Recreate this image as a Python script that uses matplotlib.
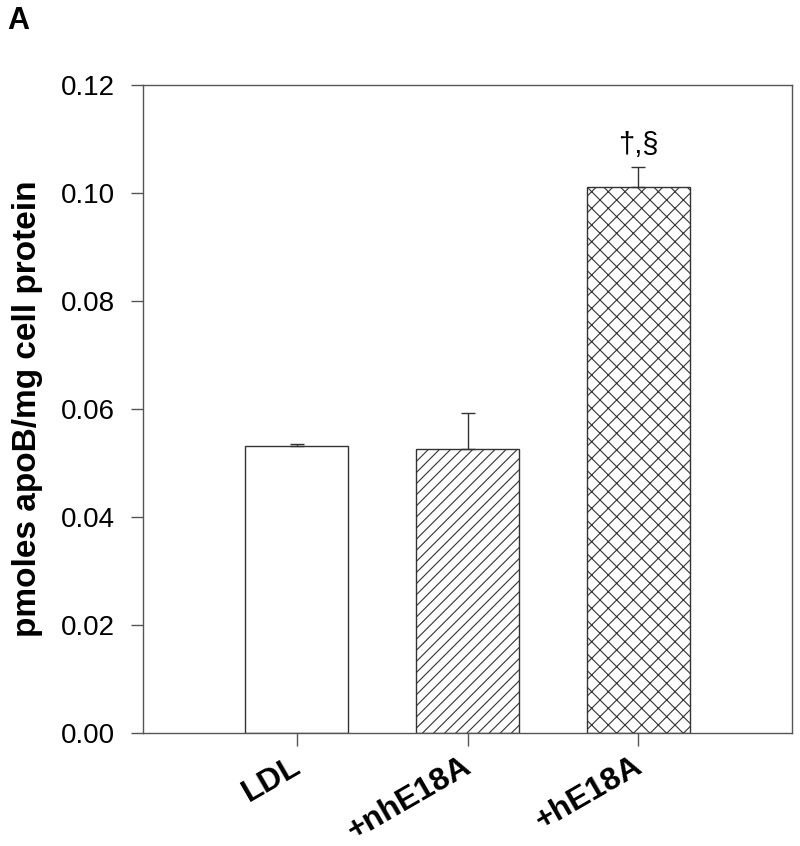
import numpy as np
import matplotlib
matplotlib.use("Agg")
import matplotlib.pyplot as plt
import matplotlib.transforms as mtransforms

plt.rcParams["font.family"] = ["Liberation Sans", "DejaVu Sans"]
plt.rcParams["hatch.linewidth"] = 0.8

# data
groups = ["LDL", "+nhE18A", "+hE18A"]
means = [0.0531, 0.0526, 0.1011]
errs_up = [0.0004, 0.0067, 0.0037]
hatches = ["", "///", "xx"]
annotations = ["", "", "†,§"]
yticks = [0.00, 0.02, 0.04, 0.06, 0.08, 0.10, 0.12]

edge = "#333333"
spine_c = "#555555"

fig = plt.figure(figsize=(8.0, 8.46), dpi=100)
ax = fig.add_axes([0.17875, 0.13357, 0.81125, 0.76596])

x = np.arange(len(groups))
ax.bar(x, means, width=0.6, color="white", edgecolor=edge, linewidth=1.0,
       hatch=hatches, zorder=2)
ax.errorbar(x, means, yerr=[np.zeros(len(means)), errs_up], fmt="none",
            ecolor=edge, elinewidth=1.0, capsize=4.7, capthick=1.0, zorder=3)

for xi, m, e, a in zip(x, means, errs_up, annotations):
    if a:
        ax.annotate(a, (xi, m + e), xytext=(0, 6), textcoords="offset points",
                    ha="center", va="bottom", fontsize=21)

ax.set_xlim(-0.9, 2.9)
ax.set_ylim(0, 0.12)
ax.set_yticks(yticks)
ax.set_yticklabels([f"{v:.2f}" for v in yticks], fontsize=20)
ax.set_xticks(x)
ax.set_xticklabels([])

for s in ax.spines.values():
    s.set_color(spine_c)
    s.set_linewidth(1.0)
ax.tick_params(axis="both", direction="out", length=9, width=1.0, color=spine_c)
ax.tick_params(axis="y", pad=11)

# rotated category labels, right end hooked just left of each tick
base = mtransforms.blended_transform_factory(ax.transData, ax.transAxes)
shift = mtransforms.ScaledTranslation(-6 / 100, -18 / 100, fig.dpi_scale_trans)
for xi, g in zip(x, groups):
    ax.text(xi, 0, g, transform=base + shift, rotation=30, rotation_mode="anchor",
            ha="right", va="top", fontsize=23, fontweight="bold")

ax.set_ylabel("pmoles apoB/mg cell protein", fontsize=24, fontweight="bold",
              labelpad=13)

fig.text(0.0225, 0.975, "A", fontsize=22, fontweight="bold", ha="center", va="center")

fig.savefig("out.png", dpi=100)
